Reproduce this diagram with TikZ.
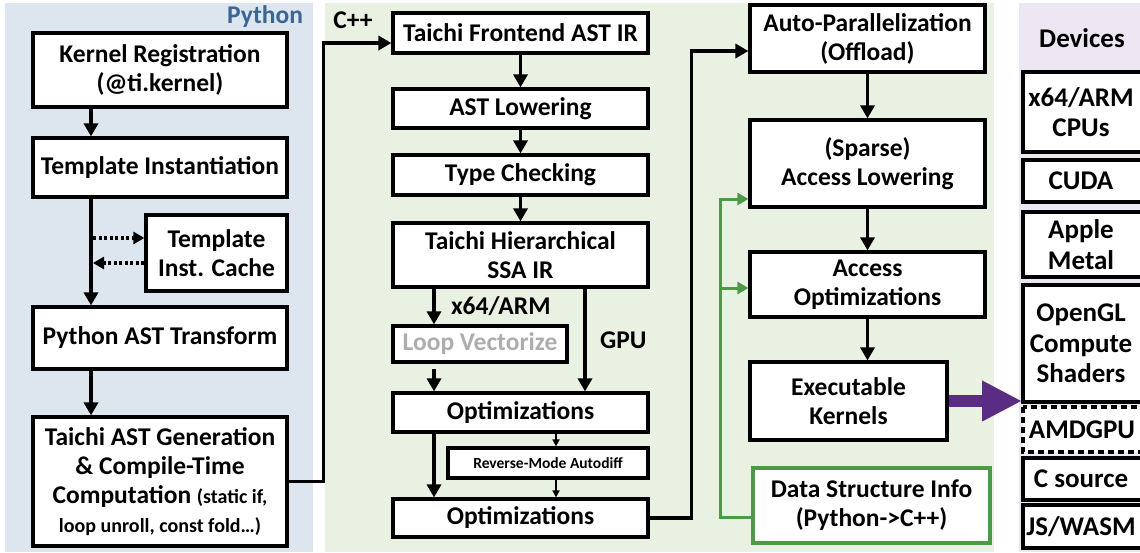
\documentclass[tikz,border=0pt]{standalone}
\usepackage{fontspec}
\setmainfont{Carlito}
\usepackage{xcolor}
\usetikzlibrary{arrows.meta}
\definecolor{pypanel}{HTML}{DDE6EF}
\definecolor{cpppanel}{HTML}{E9F1E2}
\definecolor{devpanel}{HTML}{EDE7F4}
\definecolor{pytitle}{HTML}{3D6593}
\definecolor{dsgreen}{HTML}{4C9A45}
\definecolor{kpurple}{HTML}{5B2C83}

\begin{document}
\begin{tikzpicture}[x=1pt, y=-1pt,
    every node/.style={font=\bfseries\fontsize{25.5}{29}\selectfont},
    stage/.style={draw, line width=3.2pt, fill=white, align=center, inner sep=0pt},
    devfont/.style={font=\bfseries\fontsize{27}{30.5}\selectfont, align=center},
    devbox/.style={draw, line width=3.2pt, fill=white},
    arr/.style={line width=3.4pt, -{Triangle[length=13pt,width=14pt]}},
    thinarr/.style={line width=1.6pt, -{Triangle[length=7pt,width=7pt]}},
    dotarr/.style={line width=3.2pt, dash pattern=on 3pt off 2.5pt, -{Triangle[length=11pt,width=12pt]}},
    garr/.style={dsgreen, line width=3pt, -{Triangle[length=11pt,width=12pt]}}]
\clip (0,0) rectangle (1140,552);
\fill[white] (0,0) rectangle (1140,552);

% panels
\fill[pypanel] (5,3) rectangle (313,552);
\fill[cpppanel] (325,3) rectangle (994,552);
\fill[devpanel] (1019,3) rectangle (1140,552);
\node[text=pytitle] (pylabel) at (265,17) {Python};
\node (cpplabel) at (353,20) {C++};
\node[devfont] (devlabel) at (1082,38) {Devices};

% python side
\node[stage, minimum width=254pt, minimum height=74pt] (reg) at (160,70) {Kernel Registration\\(@ti.kernel)};
\node[stage, minimum width=254pt, minimum height=59pt] (inst) at (160,167.5) {Template Instantiation};
\node[stage, minimum width=141pt, minimum height=76pt] (cache) at (216.5,253) {Template\\Inst. Cache};
\node[stage, minimum width=254pt, minimum height=62pt] (pyast) at (160,338) {Python AST Transform};
\node[stage, minimum width=254pt, minimum height=129pt] (gen) at (160,481.5)
  {Taichi AST Generation\\\& Compile-Time\\Computation {\fontsize{20}{29}\selectfont(static if,}\\{\fontsize{20}{29}\selectfont loop unroll, const fold\dots)}};

\coordinate (spine) at (91,0);
\draw[arr] (reg.south -| spine) -- (inst.north -| spine);
\draw[arr] (inst.south -| spine) -- (pyast.north -| spine);
\draw[arr] (pyast.south -| spine) -- (gen.north -| spine);
\coordinate (c1) at ([yshift=15pt]cache.west);
\coordinate (c2) at ([yshift=-10pt]cache.west);
\draw[dotarr, shorten <=2pt] (c1 -| spine) -- (c1);
\draw[dotarr, shorten >=2pt] (c2) -- (c2 -| spine);

% c++ middle column
\node[stage, minimum width=255pt, minimum height=40pt] (front) at (520.5,33) {Taichi Frontend AST IR};
\node[stage, minimum width=255pt, minimum height=39pt] (lower) at (520.5,108.5) {AST Lowering};
\node[stage, minimum width=255pt, minimum height=40pt] (check) at (520.5,175) {Type Checking};
\node[stage, minimum width=255pt, minimum height=64pt] (ssa) at (520.5,255) {Taichi Hierarchical\\SSA IR};
\node[stage, minimum width=174pt, minimum height=36pt, text=black!32] (vec) at (480,344) {Loop Vectorize};
\node[stage, minimum width=255pt, minimum height=39pt] (opt1) at (520.5,412.5) {Optimizations};
\node[stage, minimum width=200pt, minimum height=30pt, font=\bfseries\fontsize{15.5}{18}\selectfont] (rev) at (548,463) {Reverse-Mode Autodiff};
\node[stage, minimum width=255pt, minimum height=38pt] (opt2) at (520.5,518) {Optimizations};

\draw[arr] (gen.east) -- ++(35,0) |- ([yshift=-10pt]front.west);
\draw[arr] (front) -- (lower);
\draw[arr] (lower) -- (check);
\draw[arr] (check) -- (ssa);
\coordinate (lane) at (434,0);
\coordinate (gpu) at (585,0);
\coordinate (revlane) at (556,0);
\draw[arr] (ssa.south -| lane) -- (vec.north -| lane) node[midway, right=12pt] {x64/ARM};
\draw[arr, shorten <=5pt] (vec.south -| lane) -- (opt1.north -| lane);
\draw[arr] (ssa.south -| gpu) -- (opt1.north -| gpu) node[midway, right=10pt] {GPU};
\draw[arr] (opt1.south -| lane) -- (opt2.north -| lane);
\draw[thinarr] (opt1.south -| revlane) -- (rev.north -| revlane);
\draw[thinarr] (rev.south -| revlane) -- (opt2.north -| revlane);

% c++ right column
\node[stage, minimum width=235pt, minimum height=67pt] (par) at (867.5,38.5) {Auto-Parallelization\\(Offload)};
\node[stage, minimum width=235pt, minimum height=87pt] (sparse) at (867.5,163.5) {(Sparse)\\Access Lowering};
\node[stage, minimum width=235pt, minimum height=65pt] (acc) at (867.5,284.5) {Access\\Optimizations};
\node[stage, minimum width=197pt, minimum height=78pt] (exe) at (848.5,401) {Executable\\Kernels};
\node[stage, draw=dsgreen, minimum width=237pt, minimum height=75pt] (dsi) at (871.5,505.5) {Data Structure Info\\(Python->C++)};

\draw[arr] (opt2.east) -- ++(42,0) |- ([yshift=-12.5pt]par.west);
\draw[arr] (par) -- (sparse);
\draw[arr] (sparse) -- (acc);
\draw[arr] (acc.south) -- (acc.south |- exe.north);

\coordinate (gbus) at (720,0);
\coordinate (sp1) at ([yshift=-35.5pt]sparse.west);
\coordinate (ac1) at ([yshift=-3.5pt]acc.west);
\draw[garr] ([yshift=-11.5pt]dsi.west) -| (gbus |- sp1) -- (sp1);
\draw[garr] (gbus |- ac1) -- (ac1);

% devices
\foreach \dname/\dtop/\dbot/\dtext in {cpu/72/152/{x64/ARM\\CPUs}, cuda/160/202/{CUDA},
    metal/212/277/{Apple\\Metal}, opengl/285/402/{OpenGL\\Compute\\Shaders},
    csrc/458/500/{C source}, js/505/548/{JS/WASM}} {
  \draw[devbox] (1023,\dtop) rectangle (1170,\dbot);
  \node[devfont] (\dname) at (1081,{(\dtop+\dbot)/2}) {\dtext};
}
\draw[devbox, line width=3.2pt, dash pattern=on 6pt off 4pt] (1023,407) rectangle (1170,452);
\node[devfont] (amd) at (1082,429.5) {AMDGPU};

\coordinate (devin) at (1022,0);
\draw[kpurple, line width=12pt, -{Triangle[length=40pt,width=38pt]}] (exe.east) -- (exe.east -| devin);
\end{tikzpicture}
\end{document}
